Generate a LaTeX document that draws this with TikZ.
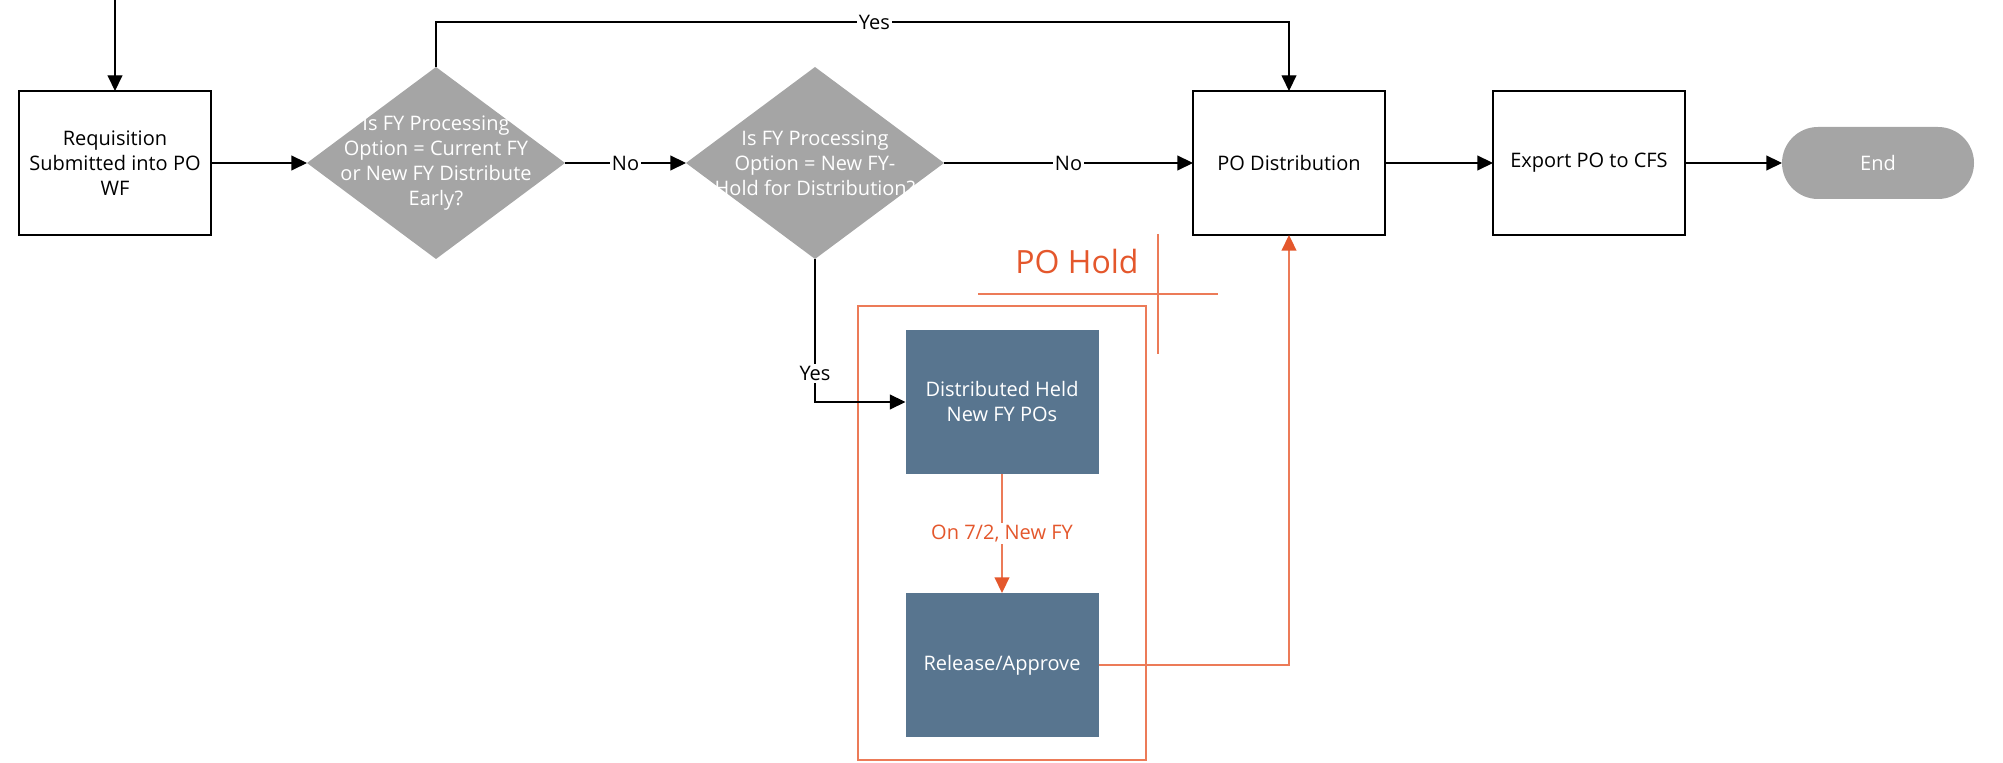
\documentclass[tikz,border=0pt]{standalone}
\usepackage{fontspec}
\setmainfont{Open Sans}
\usetikzlibrary{arrows.meta, positioning, shapes.geometric}
\definecolor{decgray}{HTML}{A5A5A5}
\definecolor{holdblue}{HTML}{58758F}
\definecolor{holdorange}{HTML}{E4572C}
\definecolor{holdline}{HTML}{EC7B58}

\begin{document}
\begin{tikzpicture}[x=0.5pt, y=-0.5pt, ->, >={Triangle[length=7.8pt,width=7.4pt]}, line width=0.6pt,
    font=\fontsize{10}{12.5}\selectfont,
    process/.style={draw=black, outer sep=0pt, minimum width=96pt, minimum height=72pt, align=center},
    decision/.style={diamond, fill=decgray, outer sep=0pt, minimum width=129pt, minimum height=96pt, inner sep=0pt},
    dectext/.style={text=white, align=center},
    terminal/.style={fill=decgray, outer sep=0pt, rounded corners=18pt, minimum width=96pt, minimum height=36pt, text=white},
    holdbox/.style={fill=holdblue, outer sep=0pt, minimum width=96.5pt, minimum height=72pt, text=white, align=center},
    lbl/.style={fill=white, inner sep=1pt, text=black}]

    \useasboundingbox (0,0) rectangle (2003,763);

    \draw[-, holdline, line width=0.7pt] (858,306) rectangle (1146,760);

    \coordinate (start) at (115,0);
    \node[process] (req) at (115,163)              {Requisition\\Submitted into PO\\WF};
    \node[decision, right=48pt of req,
          label={[dectext]center:Is FY Processing\\Option = Current FY\\or New FY Distribute\\Early?}] (fy1) {};
    \node[decision, right=60.5pt of fy1,
          label={[dectext]center:Is FY Processing\\Option = New FY-\\Hold for Distribution?}] (fy2) {};
    \node[process, right=124.5pt of fy2] (podist)  {PO Distribution};
    \node[process, right=54pt of podist] (export)  {Export PO to CFS};
    \node[terminal, right=48.5pt of export] (end)  {End};
    \node[holdbox] (dist) at (1002,402)            {Distributed Held\\New FY POs};
    \node[holdbox, below=59.5pt of dist] (rel)     {Release/Approve};
    \node[text=holdorange, font=\fontsize{16}{19}\selectfont] (holdtitle) at (1077,262) {PO Hold};

    \draw[-, holdline, line width=0.7pt] (978,294) -- (1218,294) (1158,234) -- (1158,354);

    \draw (start) -- (req);
    \path (req)    edge                 (fy1)
          (fy1)    edge node[lbl] {No}  (fy2)
          (fy2)    edge node[lbl] {No}  (podist)
          (podist) edge                 (export)
          (export) edge                 (end);
    \draw (fy1.north) -- ++(0,-45) -| node[lbl, pos=0.257] {Yes} (podist.north);
    \draw (fy2.south) |- node[lbl, pos=0.4] {Yes} (dist.west);

    \draw[holdline, line width=0.7pt, >={Triangle[length=7.8pt,width=7.4pt,color=holdorange]}]
          (dist) -- node[lbl, text=holdorange] {On 7/2, New FY} (rel);
    \draw[holdline, line width=0.7pt, >={Triangle[length=7.8pt,width=7.4pt,color=holdorange]}]
          (rel.east) -| (podist.south);
\end{tikzpicture}
\end{document}
